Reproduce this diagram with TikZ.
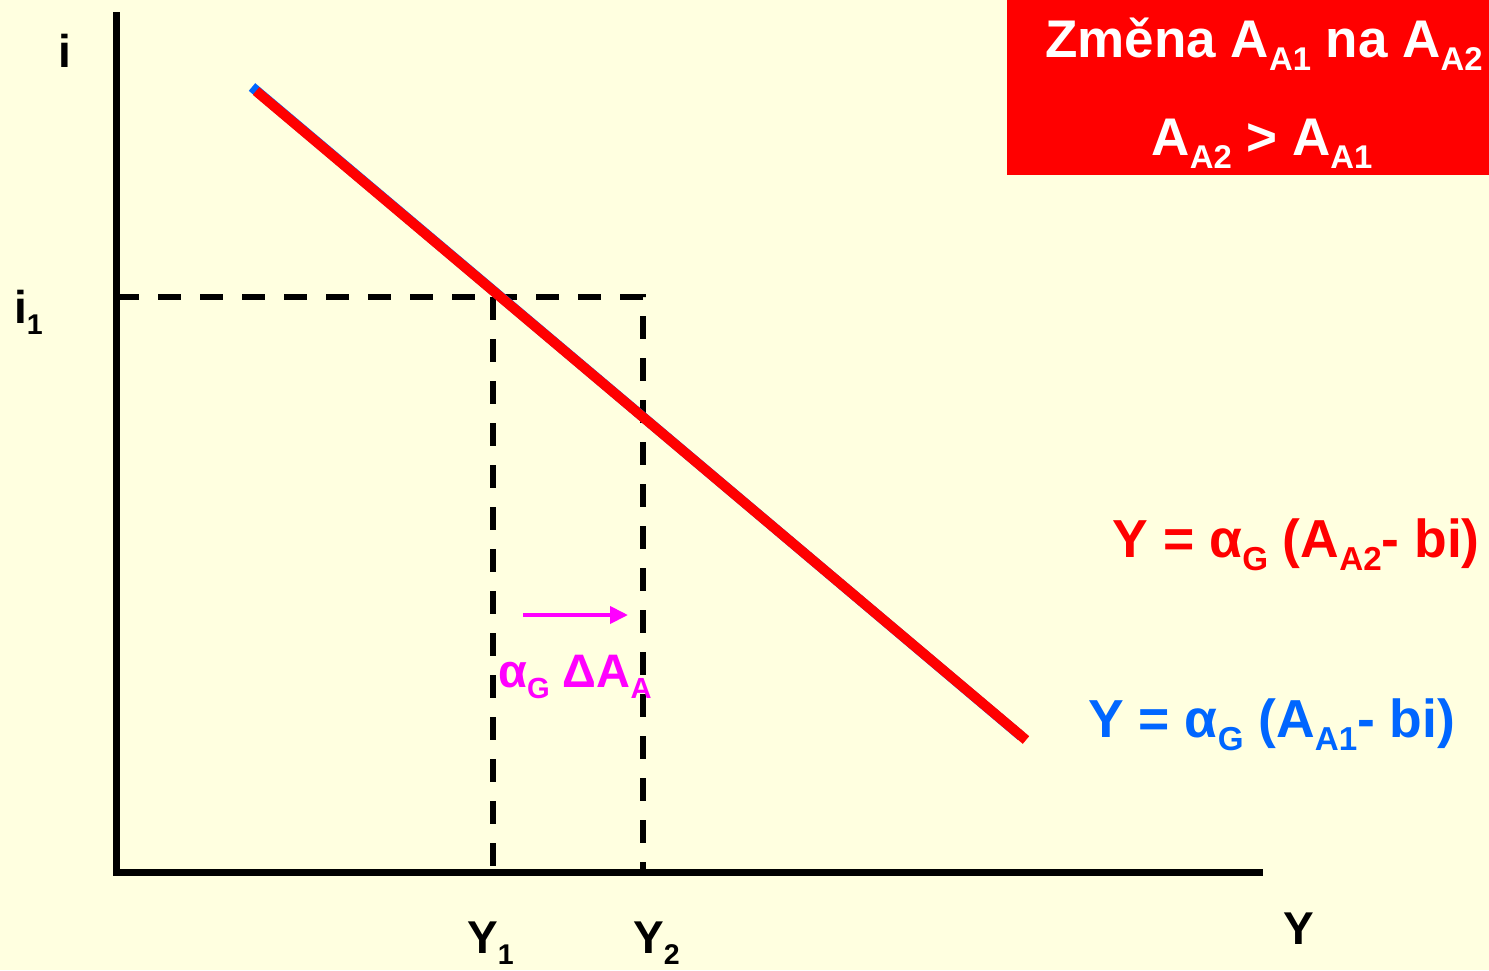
\documentclass[tikz,border=0pt]{standalone}
\usepackage{fontspec}
\setmainfont{Liberation Sans}
\usepackage{graphicx}
\usetikzlibrary{arrows.meta, positioning}
\definecolor{bgyellow}{RGB}{255, 255, 224}
\definecolor{shiftred}{RGB}{255, 0, 0}
\definecolor{shiftblue}{RGB}{0, 102, 255}
\definecolor{shiftmag}{RGB}{255, 0, 255}
\newcommand{\lowidx}[1]{\raisebox{-0.25em}{\scalebox{0.62}{#1}}}

\begin{document}
\begin{tikzpicture}[
			x=1pt, y=-1pt,
			axis/.style={line width=7pt, black},
			guide/.style={line width=6pt, black, dash pattern=on 23pt off 19pt},
			curve/.style={line width=10pt},
			lbl/.style={inner sep=0pt, font=\fontsize{46}{50}\selectfont\bfseries},
			eqn/.style={inner sep=0pt, font=\fontsize{53.5}{60}\selectfont\bfseries},
			titlebox/.style={rectangle, fill=shiftred, inner sep=0pt, minimum width=482pt, minimum height=175pt},
			titletext/.style={inner sep=0pt, text=white, anchor=base, font=\fontsize{53}{60}\selectfont\bfseries}
			]
			\fill[bgyellow] (0,0) rectangle (1489,970);
			\useasboundingbox (0,0) rectangle (1489,970);
			
			% Guides
			\coordinate (i1) at (116,297);
			\coordinate (p1) at (493,297);
			\coordinate (p2) at (643,297);
			\coordinate (y1) at (493,872);
			\coordinate (y2) at (643,872);
			\draw[guide] (i1) -- (p2) -- (y2);
			\draw[guide] (p1) -- (y1);
			
			% Axes
			\coordinate (itop) at (116,12);
			\coordinate (orig) at (116,872);
			\coordinate (yend) at (1263,872);
			\draw[axis] (itop) -- (orig) -- (yend);
			
			% Curves
			\coordinate (aa1s) at (252,87);
			\coordinate (aa1e) at (1021,736);
			\coordinate (aa2s) at (256,91);
			\coordinate (aa2e) at (1026,740);
			\draw[curve, shiftblue] (aa1s) -- (aa1e);
			\draw[curve, shiftred] (aa2s) -- (aa2e);
			
			% Labels
			\node[lbl, anchor=base] (ilab) at (65,67) {i};
			\node[lbl, anchor=base west] (i1lab) at (14,323) {i\lowidx{1}};
			\node[lbl, anchor=base west] (y1lab) at (467,953) {Y\lowidx{1}};
			\node[lbl, anchor=base west] (y2lab) at (633,953) {Y\lowidx{2}};
			\node[lbl, anchor=base west] (ylab) at (1283,944) {Y};
			
			% Title
			\node[titlebox] (change) at (1248,87.5) {};
			\node[titletext] (changea) at (1264,57) {Změna A\lowidx{A1} na A\lowidx{A2}};
			\node[titletext] (changeb) at (1262,155) {A\lowidx{A2} > A\lowidx{A1}};
			
			% Equations
			\node[eqn, text=shiftred, anchor=base east] (eqa2) at (1480,557) {Y = α\lowidx{G} (A\lowidx{A2}- bi)};
			\node[eqn, text=shiftblue, anchor=base west] (eqa1) at (1088,737) {Y = α\lowidx{G} (A\lowidx{A1}- bi)};
			
			% Shift
			\coordinate (sh0) at (523,615);
			\coordinate (sh1) at (628,615);
			\draw[line width=4pt, shiftmag, -{Triangle[length=18pt, width=17pt]}] (sh0) -- (sh1);
			\node[lbl, font=\fontsize{47}{50}\selectfont\bfseries, text=shiftmag, anchor=base west] (dlab) at (498,687) {α\lowidx{G} ΔA\lowidx{A}};
		\end{tikzpicture}
\end{document}
